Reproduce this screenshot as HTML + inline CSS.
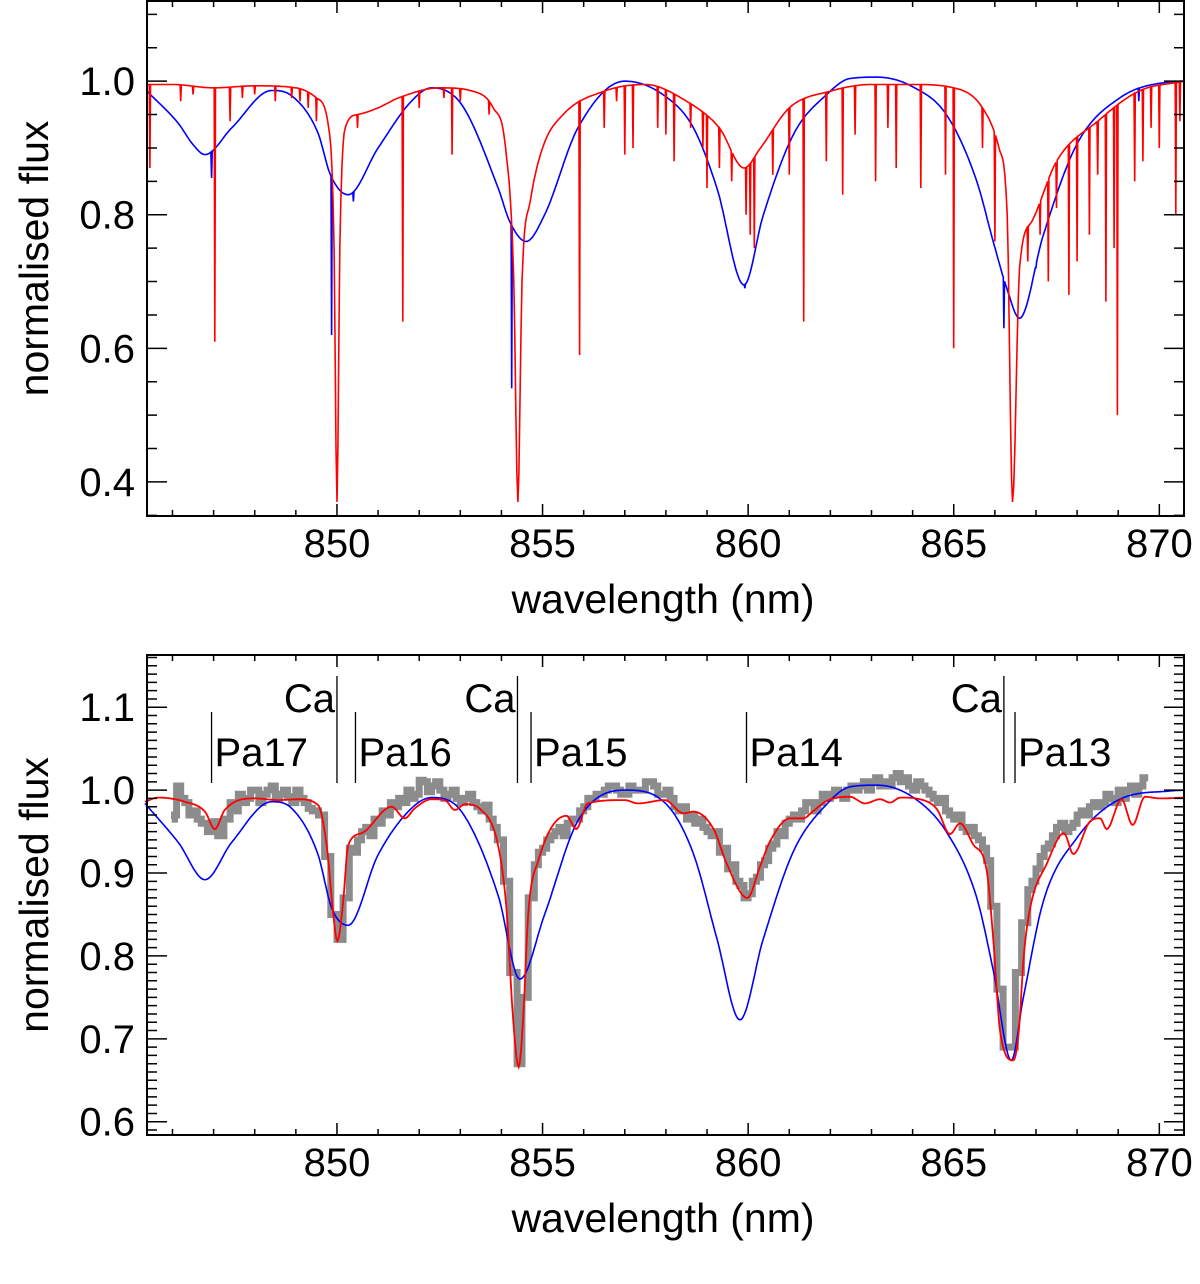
<!DOCTYPE html>
<html><head><meta charset="utf-8">
<style>
html,body{margin:0;padding:0;background:#fff;}
svg{display:block;font-family:"Liberation Sans",Arial,sans-serif;}
</style></head>
<body>
<svg id="fig" width="1200" height="1284" viewBox="0 0 1200 1284" xmlns="http://www.w3.org/2000/svg">
<g id="top"></g>
<g id="bot"></g>
</svg>
<script>
// ---------- data ----------
const xTickValues = [850, 855, 860, 865, 870];
const topYTicks = [0.4, 0.6, 0.8, 1.0];
const botYTicks = [0.6, 0.7, 0.8, 0.9, 1.0, 1.1];

// top panel: blue model (wavelength, flux)
const topBlueWl = [845.38,846.14,846.5,846.79,847.44,848.41,848.9,849.54,849.84,850.27,851.0,851.81,852.3,853.03,853.92,854.2,854.6,855.05,855.86,857.0,857.97,858.67,859.24,859.9,860.37,861.1,861.91,862.48,863.13,864.02,864.83,865.56,865.96,866.29,866.6,867.18,867.99,869.04,870.26,870.6];
const topBlueFl = [0.985,0.937,0.905,0.89,0.93,0.986,0.978,0.922,0.86,0.83,0.9,0.97,0.99,0.965,0.84,0.79,0.76,0.8,0.93,1.0,0.978,0.93,0.84,0.695,0.8,0.92,0.98,1.004,1.006,0.991,0.949,0.85,0.76,0.69,0.645,0.77,0.905,0.975,0.999,1.0];
const topBlueLineWl = [846.95,849.87,850.4,854.25,859.92,866.22,865.0,867.0,869.5];
const topBlueLineFl = [0.855,0.62,0.82,0.54,0.69,0.63,0.93,0.75,0.97];

// top panel: red model continuum
const topRedWl = [845.38,846,847,848,849,849.5,849.8,849.93,850.0,850.07,850.2,850.5,851,851.5,852.5,853.3,853.8,854.1,854.3,854.4,854.5,854.7,855,855.5,856.5,857.5,858.5,859.3,859.9,860.3,861,862,863,864,865,865.7,866.1,866.3,866.43,866.6,866.9,867.5,868.5,869.5,870.6];
const topRedFl = [0.995,0.995,0.99,0.993,0.99,0.975,0.93,0.75,0.37,0.75,0.93,0.95,0.96,0.975,0.99,0.985,0.96,0.9,0.7,0.37,0.7,0.82,0.9,0.95,0.985,0.995,0.97,0.93,0.87,0.9,0.96,0.985,0.995,0.995,0.99,0.96,0.9,0.8,0.37,0.72,0.79,0.88,0.94,0.985,1.0];
// top panel: narrow red absorption lines
const redLineWl = [845.45,846.2,846.5,847.03,847.4,847.7,848.0,848.5,848.9,849.1,849.3,849.5,850.5,851.6,852.0,852.6,852.8,853.0,853.7,855.9,856.5,856.8,857.0,857.2,857.8,858.0,858.2,858.6,858.9,859.0,859.3,859.6,859.95,860.05,860.15,860.6,861.0,861.35,861.9,862.3,862.6,863.1,863.4,863.6,864.2,864.8,865.0,865.7,866.0,866.8,867.1,867.3,867.5,867.8,868.0,868.3,868.5,868.7,868.9,868.98,869.4,869.6,869.8,870.0,870.4,870.5];
const redLineFl = [0.87,0.97,0.98,0.61,0.94,0.975,0.98,0.97,0.975,0.97,0.96,0.94,0.93,0.64,0.96,0.975,0.89,0.97,0.95,0.59,0.93,0.97,0.89,0.9,0.93,0.92,0.88,0.93,0.9,0.84,0.87,0.85,0.8,0.77,0.75,0.86,0.86,0.64,0.88,0.83,0.92,0.85,0.93,0.87,0.84,0.86,0.6,0.9,0.76,0.73,0.77,0.7,0.81,0.68,0.73,0.77,0.86,0.67,0.75,0.5,0.85,0.88,0.93,0.9,0.8,0.94];

// bottom panel: blue model
const botBlueWl = [845.33,846.14,846.79,847.44,848.41,848.9,849.54,849.87,850.27,851.0,851.81,852.3,853.03,853.92,854.45,855.05,855.86,857.0,857.97,858.67,859.24,859.8,860.37,861.1,861.91,862.48,863.13,864.02,864.83,865.56,865.96,866.4,866.69,867.18,867.99,869.04,870.26,870.6];
const botBlueFl = [0.984,0.937,0.892,0.937,0.986,0.978,0.922,0.858,0.837,0.922,0.978,0.991,0.974,0.873,0.772,0.85,0.963,1.0,0.985,0.923,0.821,0.723,0.821,0.926,0.983,1.004,1.006,0.991,0.949,0.87,0.783,0.674,0.749,0.866,0.942,0.989,0.999,1.0];

// bottom panel: red model
const botRedWl = [845.33,845.65,846.3,846.79,847.03,847.27,848.0,848.57,849.06,849.54,849.75,849.91,850.01,850.15,850.27,850.6,851.33,851.65,851.89,852.3,852.62,852.87,853.11,853.51,853.92,854.12,854.28,854.42,854.53,854.65,854.89,855.58,855.82,856.1,856.99,857.32,857.97,858.43,858.67,859.16,859.48,859.98,860.29,860.53,861.02,861.34,861.59,861.91,862.48,862.84,863.21,863.45,863.7,864.18,864.59,864.91,865.15,865.48,865.8,865.96,866.13,866.45,866.58,866.7,866.86,867.26,867.68,867.91,868.31,868.56,868.72,869.08,869.35,869.65,870.02,870.6];
const botRedFl = [0.986,0.991,0.986,0.974,0.953,0.976,0.99,0.988,0.989,0.982,0.933,0.85,0.818,0.865,0.933,0.948,0.98,0.966,0.978,0.989,0.988,0.976,0.983,0.976,0.933,0.858,0.726,0.666,0.726,0.85,0.914,0.969,0.953,0.984,0.988,0.984,0.988,0.972,0.974,0.953,0.911,0.87,0.908,0.938,0.966,0.966,0.975,0.987,0.992,0.984,0.989,0.985,0.991,0.989,0.977,0.947,0.96,0.934,0.904,0.821,0.708,0.674,0.708,0.798,0.858,0.911,0.948,0.923,0.962,0.966,0.953,0.989,0.958,0.992,0.99,0.991];

// bottom panel: observed (grey)
const obsWl = [845.98,846.05,846.1,846.2,846.3,846.4,846.5,846.6,846.7,846.85,847.0,847.1,847.25,847.4,847.5,847.6,847.7,847.8,847.9,848.0,848.1,848.2,848.3,848.4,848.5,848.6,848.7,848.8,848.9,849.0,849.1,849.2,849.3,849.4,849.55,849.7,849.85,850.0,850.15,850.3,850.4,850.5,850.6,850.7,850.8,850.9,851.0,851.1,851.2,851.3,851.4,851.5,851.6,851.7,851.8,851.9,852.0,852.1,852.2,852.3,852.4,852.5,852.6,852.7,852.8,852.9,853.0,853.1,853.2,853.3,853.4,853.5,853.6,853.7,853.8,853.9,854.05,854.2,854.38,854.5,854.65,854.8,854.9,855.0,855.1,855.2,855.3,855.4,855.5,855.6,855.7,855.8,855.9,856.0,856.1,856.2,856.3,856.5,856.6,856.8,856.9,857.1,857.2,857.4,857.5,857.7,857.8,857.9,858.0,858.1,858.2,858.3,858.4,858.5,858.6,858.7,858.8,858.9,859.0,859.1,859.2,859.3,859.4,859.5,859.6,859.7,859.8,859.9,860.0,860.1,860.2,860.3,860.4,860.5,860.6,860.7,860.8,860.9,861.0,861.1,861.2,861.3,861.4,861.5,861.6,861.7,861.8,861.9,862.0,862.1,862.2,862.3,862.4,862.5,862.6,862.7,862.8,862.9,863.0,863.1,863.2,863.3,863.4,863.5,863.6,863.7,863.8,863.9,864.0,864.1,864.2,864.3,864.4,864.5,864.6,864.7,864.8,864.9,865.0,865.1,865.2,865.3,865.4,865.5,865.6,865.7,865.8,865.9,866.05,866.2,866.35,866.5,866.65,866.8,866.9,867.0,867.1,867.2,867.3,867.4,867.5,867.6,867.7,867.8,867.9,868.0,868.1,868.2,868.3,868.4,868.5,868.6,868.7,868.8,868.9,869.0,869.1,869.2,869.3,869.4,869.5,869.6,869.73];
const obsFl = [0.965,0.97,1.005,0.99,0.985,0.97,0.975,0.965,0.96,0.95,0.962,0.945,0.965,0.985,0.975,0.995,0.985,0.99,1.0,1.0,0.985,0.995,1.0,1.005,0.99,0.995,1.0,0.992,0.985,1.0,0.99,0.985,0.978,0.975,0.97,0.92,0.85,0.82,0.87,0.93,0.925,0.94,0.95,0.955,0.945,0.965,0.96,0.975,0.97,0.985,0.98,0.99,0.985,1.0,0.99,0.995,1.012,1.01,0.998,1.005,1.01,1.0,0.99,0.995,1.0,0.99,0.985,0.99,0.995,0.985,0.98,0.975,0.982,0.965,0.955,0.94,0.89,0.78,0.67,0.75,0.87,0.91,0.925,0.93,0.94,0.945,0.95,0.955,0.945,0.96,0.965,0.965,0.975,0.98,0.99,0.99,0.995,1.0,1.005,1.0,0.995,1.005,1.0,1.0,1.01,1.005,0.995,0.995,1.0,0.99,0.98,0.975,0.98,0.965,0.97,0.96,0.965,0.955,0.95,0.945,0.95,0.925,0.93,0.905,0.91,0.89,0.885,0.87,0.875,0.89,0.895,0.91,0.915,0.93,0.935,0.95,0.945,0.96,0.965,0.97,0.965,0.975,0.985,0.985,0.975,0.985,0.995,0.99,0.995,1.0,0.995,0.99,1.0,1.005,1.0,1.005,1.01,1.0,1.01,1.015,1.005,1.01,1.005,1.015,1.02,1.01,1.015,1.005,1.0,1.01,1.005,1.0,0.995,0.99,0.985,0.99,0.975,0.97,0.965,0.97,0.955,0.95,0.955,0.945,0.94,0.93,0.915,0.86,0.76,0.69,0.69,0.78,0.84,0.88,0.89,0.905,0.92,0.93,0.935,0.945,0.955,0.96,0.95,0.955,0.96,0.97,0.975,0.97,0.98,0.985,0.98,0.985,0.995,0.99,0.985,1.0,0.99,1.0,1.005,0.995,1.005,1.015];

// line identification markers
const markerNames = ["Pa17","Ca","Pa16","Ca","Pa15","Pa14","Ca","Pa13"];
const markerWl = [846.95,850.0,850.45,854.39,854.72,859.96,866.22,866.49];
const markerIsCa = [false,true,false,true,false,false,true,false];

// ---------- layout ----------
const NS = "http://www.w3.org/2000/svg";
const X0 = 147, X1 = 1184, WL0 = 845.38, WL1 = 870.6;
function xs(w){ return X0 + (w - WL0) / (WL1 - WL0) * (X1 - X0); }
const topP = {y0: 1, y1: 516, f0: 0.349, f1: 1.12};
const botP = {y0: 655, y1: 1135, f0: 0.584, f1: 1.163};
function ys(p, f){ return p.y1 - (f - p.f0) / (p.f1 - p.f0) * (p.y1 - p.y0); }

function el(tag, attrs, parent){
  const e = document.createElementNS(NS, tag);
  for (const k in attrs) e.setAttribute(k, attrs[k]);
  parent.appendChild(e);
  return e;
}
// monotone cubic interpolation -> dense samples
function smooth(wl, fl, step){
  const n = wl.length, dlt = [], m = new Array(n);
  for (let i = 0; i < n-1; i++) dlt.push((fl[i+1]-fl[i])/(wl[i+1]-wl[i]));
  m[0] = dlt[0]; m[n-1] = dlt[n-2];
  for (let i = 1; i < n-1; i++) m[i] = (dlt[i-1]*dlt[i] <= 0) ? 0 : (dlt[i-1]+dlt[i])/2;
  for (let i = 0; i < n-1; i++) {
    if (dlt[i] === 0) { m[i] = 0; m[i+1] = 0; continue; }
    const a = m[i]/dlt[i], b = m[i+1]/dlt[i], s = a*a+b*b;
    if (s > 9) { const t = 3/Math.sqrt(s); m[i] = t*a*dlt[i]; m[i+1] = t*b*dlt[i]; }
  }
  const ow = [], of = [];
  for (let i = 0; i < n-1; i++) {
    const h = wl[i+1]-wl[i], k = Math.max(1, Math.ceil(h/step));
    for (let j = 0; j < k; j++) {
      const t = j/k, t2 = t*t, t3 = t2*t;
      const v = (2*t3-3*t2+1)*fl[i] + (t3-2*t2+t)*h*m[i] + (-2*t3+3*t2)*fl[i+1] + (t3-t2)*h*m[i+1];
      ow.push(wl[i]+t*h); of.push(v);
    }
  }
  ow.push(wl[n-1]); of.push(fl[n-1]);
  return [ow, of];
}
function interp(wl, fl, w){
  if (w <= wl[0]) return fl[0];
  for (let i = 1; i < wl.length; i++) if (w <= wl[i]) {
    const t = (w - wl[i-1]) / (wl[i] - wl[i-1]);
    return fl[i-1] + t * (fl[i] - fl[i-1]);
  }
  return fl[fl.length-1];
}
function pathFrom(p, wl, fl){
  let d = "";
  for (let i = 0; i < wl.length; i++) d += (i ? "L" : "M") + xs(wl[i]).toFixed(1) + "," + ys(p, fl[i]).toFixed(1);
  return d;
}
function stepPath(p, wl, fl){
  let d = "M" + xs(wl[0]).toFixed(1) + "," + ys(p, fl[0]).toFixed(1);
  for (let i = 1; i < wl.length; i++) d += "H" + xs(wl[i]).toFixed(1) + "V" + ys(p, fl[i]).toFixed(1);
  return d;
}
function withLines(wl, fl, lw, lf){
  const pts = wl.map((w, i) => [w, fl[i]]).filter(q => !lw.some(l => Math.abs(l - q[0]) < 0.016));
  for (let i = 0; i < lw.length; i++) {
    const c1 = interp(wl, fl, lw[i] - 0.015), c2 = interp(wl, fl, lw[i] + 0.015);
    pts.push([lw[i] - 0.015, c1], [lw[i], Math.min(lf[i], c1)], [lw[i] + 0.015, c2]);
  }
  pts.sort((a, b) => a[0] - b[0]);
  return [pts.map(q => q[0]), pts.map(q => q[1])];
}

function axes(g, p, yTicks, minorStep, yName){
  const frame = el("rect", {x: X0, y: p.y0, width: X1 - X0, height: p.y1 - p.y0, fill: "none", stroke: "#000", "stroke-width": 2}, g);
  
  
  let d = "";
  for (let w = 846; w <= 870; w++) {
    const x = xs(w), L = (w % 5 === 0) ? 12 : 6;
    d += `M${x},${p.y1}v${-L}M${x},${p.y0}v${L}`;
  }
  for (let k = Math.ceil(p.f0 / minorStep - 1e-6); k * minorStep <= p.f1; k++) {
    const f = k * minorStep, y = ys(p, f);
    const major = yTicks.some(t => Math.abs(t - f) < 1e-6);
    const L = major ? 20 : 10;
    d += `M${X0},${y}h${L}M${X1},${y}h${-L}`;
  }
  const ticks = el("path", {d: d, stroke: "#000", "stroke-width": 1.5, fill: "none"}, g);
  
  
  xTickValues.forEach(v => {
    const t = el("text", {x: xs(v), y: p.y1 + 41, "font-size": 40, "text-anchor": "middle"}, g);
    t.textContent = v;
    
    
  });
  yTicks.forEach(v => {
    const t = el("text", {x: 135, y: ys(p, v) + 14, "font-size": 40, "text-anchor": "end"}, g);
    t.textContent = v.toFixed(1);
    
    
  });
  const xt = el("text", {x: 663, y: p.y1 + 97, "font-size": 41, "text-anchor": "middle"}, g);
  xt.textContent = "wavelength (nm)";
  
  
  const cy = (p.y0 + p.y1) / 2;
  const yt = el("text", {x: 48, y: cy, "font-size": 41, "text-anchor": "middle", transform: `rotate(-90 48 ${cy})`}, g);
  yt.textContent = "normalised flux";
  
  
}

// ---------- top panel ----------
const gT = document.getElementById("top");
const sRedT = smooth(topRedWl, topRedFl, 0.03);
const sBlueT = smooth(topBlueWl, topBlueFl, 0.03);
const rT = withLines(sRedT[0], sRedT[1], redLineWl, redLineFl);
const bT = withLines(sBlueT[0], sBlueT[1], topBlueLineWl, topBlueLineFl);
const blueTop = el("path", {d: pathFrom(topP, bT[0], bT[1]), stroke: "#0000ff", "stroke-width": 1.6, fill: "none"}, gT);


const redTop = el("path", {d: pathFrom(topP, rT[0], rT[1]), stroke: "#ff0000", "stroke-width": 1.6, fill: "none"}, gT);


axes(gT, topP, topYTicks, 0.05, "y-axis-title");

// ---------- bottom panel ----------
const gB = document.getElementById("bot");
const obs = el("path", {d: stepPath(botP, obsWl, obsFl), stroke: "#8c8c8c", "stroke-width": 7, fill: "none"}, gB);


const sBlueB = smooth(botBlueWl, botBlueFl, 0.03);
const blueBot = el("path", {d: pathFrom(botP, sBlueB[0], sBlueB[1]), stroke: "#0000ff", "stroke-width": 1.6, fill: "none"}, gB);


const sRedB = smooth(botRedWl, botRedFl, 0.03);
const redBot = el("path", {d: pathFrom(botP, sRedB[0], sRedB[1]), stroke: "#ff0000", "stroke-width": 1.8, fill: "none"}, gB);


axes(gB, botP, botYTicks, 0.01, "y-axis-title");

markerNames.forEach((n, i) => {
  const x = xs(markerWl[i]);
  const top = markerIsCa[i] ? 676 : 712;
  const ln = el("line", {x1: x, y1: top, x2: x, y2: 783, stroke: "#000", "stroke-width": 1.3}, gB);
  
  
  const t = markerIsCa[i]
    ? el("text", {x: x - 2, y: 712, "font-size": 40, "text-anchor": "end"}, gB)
    : el("text", {x: x + 3, y: 766, "font-size": 40}, gB);
  t.textContent = n;
  
  
});
</script>
</body></html>
